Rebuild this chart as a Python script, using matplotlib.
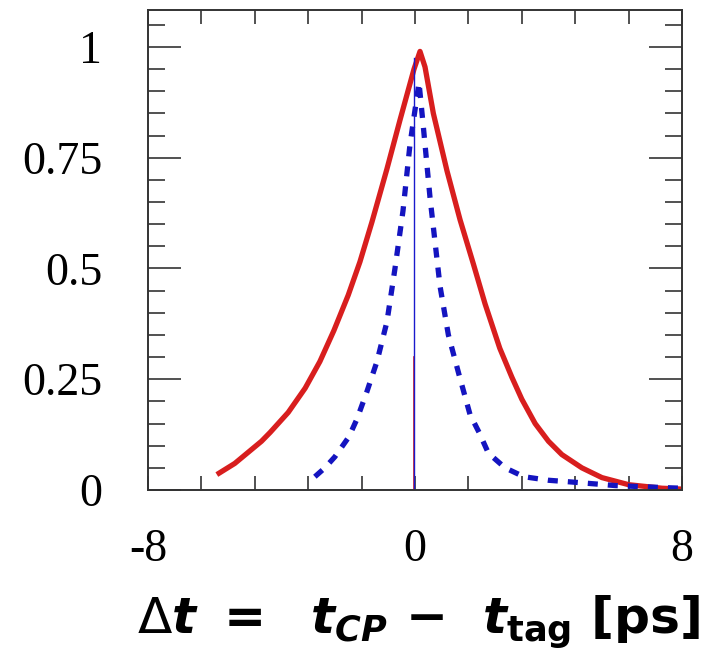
import numpy as np
import matplotlib
matplotlib.use("Agg")
import matplotlib.pyplot as plt
from matplotlib.ticker import FixedLocator, MultipleLocator, FuncFormatter

# red solid curve
red_x = [-5.87, -5.4, -5.0, -4.6, -4.34, -3.8, -3.29, -2.85, -2.43, -2.0, -1.65, -1.29,
         -0.84, -0.45, -0.03, 0.15, 0.3, 0.55, 0.96, 1.35, 1.75, 2.1, 2.54, 2.9, 3.2,
         3.6, 4.0, 4.4, 5.0, 5.6, 6.4, 7.4, 8.0]
red_y = [0.038, 0.06, 0.085, 0.11, 0.13, 0.175, 0.23, 0.29, 0.36, 0.44, 0.515, 0.605,
         0.725, 0.835, 0.95, 0.99, 0.955, 0.85, 0.72, 0.61, 0.51, 0.42, 0.32, 0.255, 0.205,
         0.15, 0.11, 0.08, 0.05, 0.028, 0.012, 0.004, 0.002]

# blue dashed curve
blue_x = [-3.0, -2.7, -2.4, -1.98, -1.74, -1.45, -1.14, -0.84, -0.6, -0.36, -0.15, 0.12,
          0.25, 0.45, 0.6, 0.75, 1.0, 1.32, 1.65, 1.92, 2.2, 2.7, 3.26, 4.0, 4.7, 6.0, 7.6, 8.0]
blue_y = [0.03, 0.05, 0.075, 0.12, 0.16, 0.22, 0.29, 0.38, 0.5, 0.63, 0.78, 0.92,
          0.82, 0.66, 0.56, 0.46, 0.35, 0.26, 0.17, 0.13, 0.083, 0.05, 0.03, 0.022, 0.018, 0.01, 0.005, 0.004]

# thin step line at dt = 0
step_x = [-8, -0.03, -0.03]
step_y = [0, 0, 0.975]

xtick_pos = np.arange(-8, 8.01, 1.6)
xtick_text = {-8: "-8", 0: "0", 8: "8"}
ytick_major = [0, 0.25, 0.5, 0.75, 1]
ytick_text = ["0", "0.25", "0.5", "0.75", "1"]

plt.rcParams['mathtext.fontset'] = 'custom'
plt.rcParams['mathtext.it'] = 'DejaVu Sans:bold:italic'
plt.rcParams['mathtext.bf'] = 'DejaVu Sans:bold'
plt.rcParams['mathtext.rm'] = 'DejaVu Sans:bold'
plt.rcParams['mathtext.sf'] = 'DejaVu Sans'

fig = plt.figure(figsize=(7.1, 6.65), dpi=100)
ax = fig.add_axes([148/710, 1-490/665, 534/710, 480/665])

ax.plot(red_x, red_y, color='#d81e1e', lw=3.8, solid_joinstyle='round', zorder=3)
ax.plot(blue_x, blue_y, color='#1414c0', lw=3.8, ls=(0, (1.9, 1.9)), zorder=4)
ax.plot([-0.03, -0.03], [0, 0.3], color='#d81e1e', lw=1.2, zorder=5)
ax.plot(step_x, step_y, color='#1a1acc', lw=1.0, zorder=6)

ax.set_xlim(-8, 8)
ax.set_ylim(0, 1.0835)

for s in ax.spines.values():
    s.set_linewidth(1.4)
    s.set_color('#333333')
    s.set_zorder(7)

ax.xaxis.set_major_locator(FixedLocator(xtick_pos))
ax.xaxis.set_major_formatter(FuncFormatter(
    lambda v, p: xtick_text.get(int(round(v)), "") if abs(v - round(v)) < 1e-6 else ""))
ax.yaxis.set_major_locator(FixedLocator(ytick_major))
ax.set_yticklabels(ytick_text)
ax.yaxis.set_minor_locator(MultipleLocator(0.05))

ax.tick_params(axis='x', which='major', direction='in', length=10, width=1.2,
               top=True, bottom=True, pad=28, labelsize=33, color='#333333')
ax.tick_params(axis='y', which='major', direction='in', length=24, width=1.2,
               left=True, right=True, pad=33, labelsize=33, color='#333333')
ax.tick_params(axis='y', which='minor', direction='in', length=12, width=1.2,
               left=True, right=True, color='#333333')
for lab in ax.get_xticklabels() + ax.get_yticklabels():
    lab.set_fontfamily('Liberation Serif')

fig.text(419/710, 1-622/665,
         r'$\mathsf{\Delta}\mathit{t}\ \mathbf{=}\ \ \mathit{t}_{\mathit{CP}}\ \mathbf{-}\ \ \mathit{t}_{\mathbf{tag}}\ \mathbf{[ps]}$',
         ha='center', va='center', fontsize=36.2)

fig.savefig('out.png', dpi=100)
